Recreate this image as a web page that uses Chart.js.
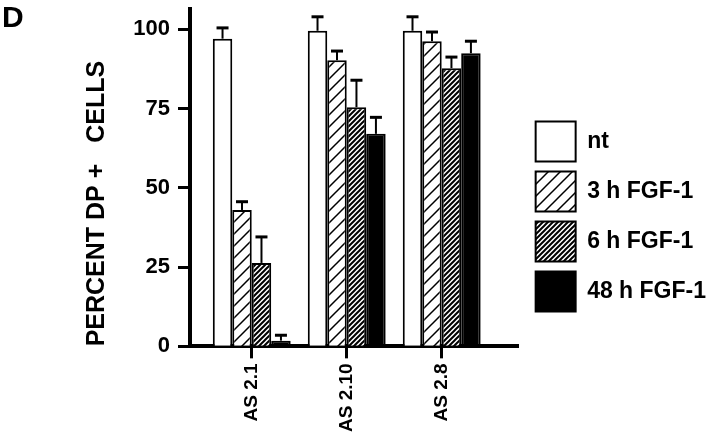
<!DOCTYPE html>
<html>
<head>
<meta charset="utf-8">
<script src="https://cdn.jsdelivr.net/npm/chart.js@4.4.1/dist/chart.umd.min.js"></script>
<style>
  body { margin: 0; background: #fff; }
  #wrap { position: relative; width: 720px; height: 438px; }
  #panel { position: absolute; left: 2px; top: 2px; font: bold 30px "Liberation Sans", Arial, sans-serif; line-height: 30px; }
</style>
</head>
<body>
<div id="wrap">
  <canvas id="myChart"></canvas>
  <div id="panel">D</div>
</div>
<script>
const categories = ["AS 2.1", "AS 2.10", "AS 2.8"];
const seriesNames = ["nt", "3 h FGF-1", "6 h FGF-1", "48 h FGF-1"];
const ntValues = [97, 99.5, 99.5];
const ntErrors = [3.4, 4.4, 4.4];
const h3Values = [43, 90.2, 96.2];
const h3Errors = [2.6, 2.9, 2.9];
const h6Values = [26.3, 75.4, 87.7];
const h6Errors = [8.2, 8.5, 3.5];
const h48Values = [1.8, 67, 92.4];
const h48Errors = [1.7, 5.2, 3.8];
const yTicks = [0, 25, 50, 75, 100];

Chart.defaults.font.family = '"Liberation Sans", Arial, sans-serif';
Chart.defaults.color = "#000";

const ctx = document.getElementById("myChart").getContext("2d");

// diagonal hatch fill
const hatch = (step, width) => {
    const c = document.createElement("canvas");
    c.width = step;
    c.height = step;
    const g = c.getContext("2d");
    g.fillStyle = "#fff";
    g.fillRect(0, 0, step, step);
    g.strokeStyle = "#000";
    g.lineWidth = width;
    g.beginPath();
    g.moveTo(-1, step + 1); g.lineTo(step + 1, -1);
    g.moveTo(-1, 1); g.lineTo(1, -1);
    g.moveTo(step - 1, step + 1); g.lineTo(step + 1, step - 1);
    g.stroke();
    return ctx.createPattern(c, "repeat");
};

const points = (vals) => vals.map((v, i) => ({ x: i + 1, y: v }));

// error bars, up only
const errorBars = {
    id: "errorBars",
    afterDatasetsDraw(chart) {
        const c = chart.ctx;
        const yScale = chart.scales.y;
        c.save();
        c.strokeStyle = "#000";
        chart.data.datasets.forEach((ds, i) => {
            chart.getDatasetMeta(i).data.forEach((bar, j) => {
                const top = yScale.getPixelForValue(ds.data[j].y + ds.errors[j]);
                c.lineWidth = 2;
                c.beginPath(); c.moveTo(bar.x, bar.y); c.lineTo(bar.x, top); c.stroke();
                c.lineWidth = 3;
                c.beginPath(); c.moveTo(bar.x - 6, top); c.lineTo(bar.x + 6, top); c.stroke();
            });
        });
        c.restore();
    }
};

const common = { borderColor: "#000", borderWidth: 2, categoryPercentage: 0.82, barPercentage: 1 };

new Chart(ctx, {
    type: "bar",
    data: {
        datasets: [
            { ...common, label: seriesNames[0], data: points(ntValues), errors: ntErrors, backgroundColor: "#fff" },
            { ...common, label: seriesNames[1], data: points(h3Values), errors: h3Errors, backgroundColor: hatch(12, 1.5) },
            { ...common, label: seriesNames[2], data: points(h6Values), errors: h6Errors, backgroundColor: hatch(5, 2) },
            { ...common, label: seriesNames[3], data: points(h48Values), errors: h48Errors, backgroundColor: "#000" }
        ]
    },
    options: {
        responsive: true,
        maintainAspectRatio: false,
        animation: false,
        layout: { padding: { left: 70, top: 0, right: 4, bottom: 5 } },
        plugins: {
            tooltip: { enabled: false },
            legend: {
                position: "right",
                maxWidth: 220,
                labels: { boxWidth: 40, boxHeight: 40, padding: 10, font: { size: 23, weight: "bold" }, color: "#000" }
            }
        },
        scales: {
            x: {
                type: "linear",
                offset: false,
                min: 0.35,
                max: 3.81,
                afterBuildTicks: (s) => { s.ticks = categories.map((c, i) => ({ value: i + 1 })); },
                afterFit: (s) => { s.height -= 4; },
                ticks: {
                    callback: (v) => categories[v - 1],
                    minRotation: 90,
                    maxRotation: 90,
                    autoSkip: false,
                    padding: 5,
                    font: { size: 19, weight: "bold" }
                },
                grid: { offset: false, drawOnChartArea: false, tickLength: 12, tickWidth: 3, color: "#000" },
                border: { width: 4, color: "#000" }
            },
            y: {
                min: 0,
                max: 106.5,
                afterBuildTicks: (s) => { s.ticks = yTicks.map((v) => ({ value: v })); },
                afterFit: (s) => { s.width = 120; },
                ticks: { padding: 8, font: { size: 22, weight: "bold", lineHeight: 0.05 } },
                grid: { drawOnChartArea: false, tickLength: 12, tickWidth: 3, color: "#000" },
                border: { width: 4, color: "#000" },
                title: {
                    display: true,
                    align: "start",
                    text: "PERCENT DP +   CELLS",
                    font: { size: 25, weight: "bold" },
                    padding: { top: 12, bottom: 13 }
                }
            },
            // empty strip between plot and legend
            gap: {
                type: "linear",
                position: "right",
                afterFit: (s) => { s.width = 7; },
                ticks: { display: false },
                grid: { display: false, drawTicks: false },
                border: { display: false }
            }
        }
    },
    plugins: [errorBars]
});
</script>
</body>
</html>
